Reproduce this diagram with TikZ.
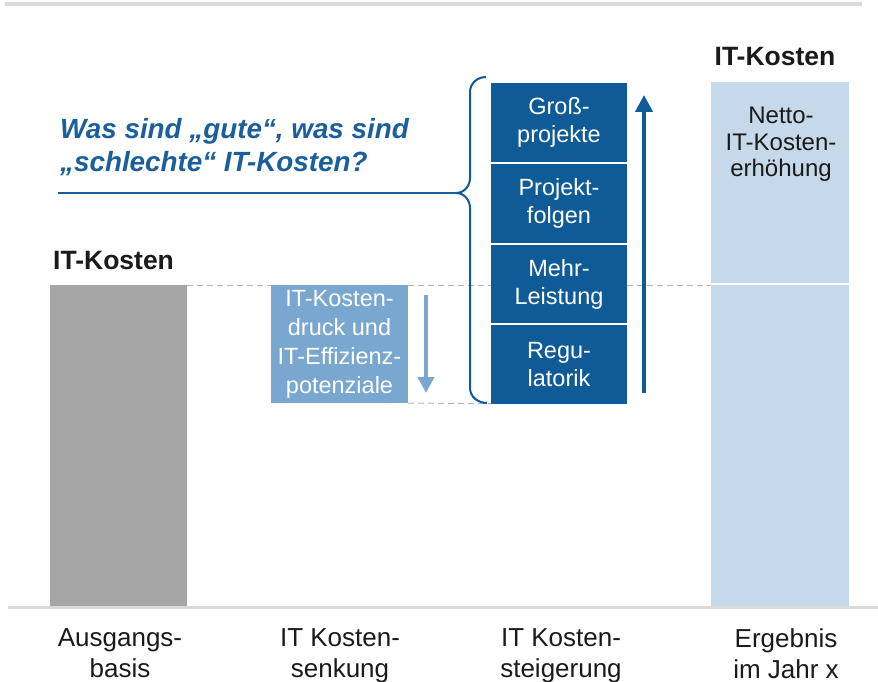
\documentclass[tikz,border=0pt]{standalone}
\usepackage{fontspec}
\setmainfont{Liberation Sans}
\usetikzlibrary{arrows.meta}
\definecolor{stackblue}{HTML}{0F5B97}
\definecolor{askblue}{HTML}{1A5E9B}
\definecolor{cutblue}{HTML}{7AA7CF}
\definecolor{netblue}{HTML}{C5D9EB}
\definecolor{basegray}{HTML}{A6A6A6}
\definecolor{rulegray}{HTML}{D9D9D9}
\definecolor{dashgray}{HTML}{B4B4B4}
\definecolor{ink}{HTML}{1A1A1A}
\tikzset{
  bar/.style={inner sep=0pt, outer sep=0pt, draw=none},
  stackbox/.style={bar, fill=stackblue, minimum width=136pt, minimum height=78.5pt,
    text=white, align=center, font=\fontsize{23.5}{28}\selectfont},
  guide/.style={dashgray, line width=1pt, dash pattern=on 6pt off 4pt},
  catlabel/.style={inner sep=0pt, anchor=north, align=center, text=ink,
    font=\fontsize{26}{31}\selectfont},
  headlabel/.style={inner sep=0pt, text=ink, font=\bfseries\fontsize{26.5}{31}\selectfont},
  bracket/.style={stackblue, line width=2pt},
}
\begin{document}
\begin{tikzpicture}[x=1pt,y=-1pt]
\useasboundingbox (0,0) rectangle (878,682);

% top and base rules
\coordinate (topL) at (5,4);
\coordinate (topR) at (862,4);
\draw[rulegray, line width=4pt] (topL) -- (topR);

% bars
\node[bar, fill=basegray, minimum width=137pt, minimum height=321pt] (base) at (118.5,445.5) {};
\node[bar, fill=netblue, minimum width=138pt, minimum height=201pt] (nettop) at (780,182.5) {};
\node[bar, fill=netblue, minimum width=138pt, minimum height=321pt] (netbot) at (780,445.5) {};
\node[bar, fill=cutblue, minimum width=137pt, minimum height=118pt, text=white, align=center,
  font=\fontsize{23.5}{29}\selectfont] (cut) at (339.5,344)
  {IT-Kosten-\\druck und\\IT-Effizienz-\\potenziale};

% stacked increases
\node[stackbox] (s1) at (559,122.5) {Groß-\\projekte};
\node[stackbox] (s2) at (559,203.5) {Projekt-\\folgen};
\node[stackbox] (s3) at (559,284) {Mehr-\\Leistung};
\node[stackbox] (s4) at (559,364.5) {Regu-\\latorik};

% dashed guides
\draw[guide] (base.north east) -- (cut.north west);
\draw[guide] (cut.north east) -- (s3.west |- cut.north);
\draw[guide] (s3.east |- cut.north) -- (netbot.north west);
\draw[guide] (cut.south east) -- (s4.south west);

\draw[rulegray, line width=2.5pt] (8,607.5) -- (878,607.5);

% arrows
\coordinate (downA) at (426,295);
\coordinate (downB) at (426,393);
\draw[cutblue, line width=4pt, -{Triangle[width=16pt,length=16pt]}] (downA) -- (downB);
\coordinate (upA) at (644,393);
\coordinate (upB) at (644,95);
\draw[stackblue, line width=4pt, -{Triangle[width=17pt,length=17pt]}] (upA) -- (upB);

% brace and question
\coordinate (brTop) at (486,77);
\coordinate (brTip) at (456,193);
\coordinate (brBot) at (487,403);
\coordinate (askL) at (58,193);
\draw[bracket] (brTop) to[out=180,in=90] (470,92) -- (470,178)
  to[out=-90,in=0] (brTip) to[out=0,in=90] (470,208) -- (470,388)
  to[out=-90,in=180] (brBot);
\draw[askblue, line width=2.5pt] (askL) -- (brTip);
\node[inner sep=0pt, anchor=north west, align=left, text=askblue,
  font=\bfseries\itshape\fontsize{27.8}{33}\selectfont] (ask) at (60,118)
  {Was sind „gute“, was sind\\„schlechte“ IT-Kosten?};

% headings
\node[headlabel, anchor=base west] (h1) at (53,269) {IT-Kosten};
\node[headlabel, anchor=base] (h2) at (775,66) {IT-Kosten};
\node[inner sep=0pt, anchor=north, align=center, text=ink,
  font=\fontsize{24}{26.5}\selectfont] (net) at (781,107) {Netto-\\IT-Kosten-\\erhöhung};

% category labels
\node[catlabel] (c1) at (120,628) {Ausgangs-\\basis};
\node[catlabel] (c2) at (340,628) {IT Kosten-\\senkung};
\node[catlabel] (c3) at (561,628) {IT Kosten-\\steigerung};
\node[catlabel] (c4) at (786,628) {Ergebnis\\im Jahr x};
\end{tikzpicture}
\end{document}
